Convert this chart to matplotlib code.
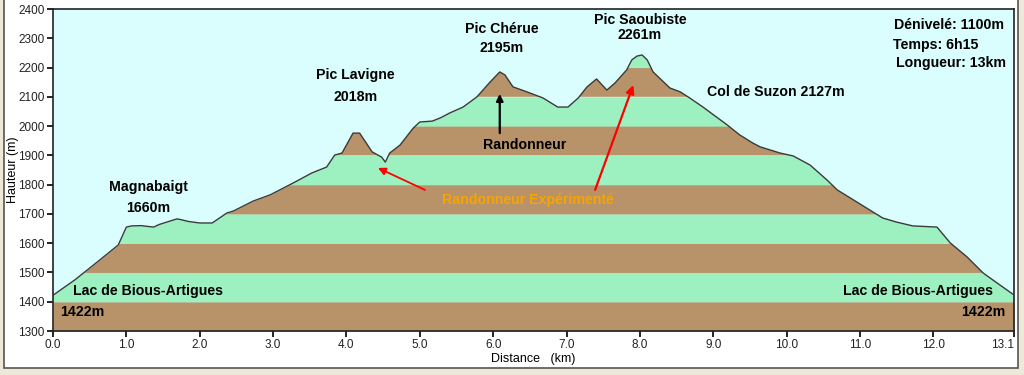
import numpy as np
import matplotlib
matplotlib.use("Agg")
import matplotlib.pyplot as plt
from matplotlib.patches import Rectangle

# ---- data ----
distance_km = [0.00, 0.30, 0.60, 0.89, 1.00, 1.07, 1.20, 1.37, 1.45, 1.55, 1.69, 1.75, 1.85,
               2.00, 2.17, 2.37, 2.46, 2.73, 2.96, 3.30, 3.53, 3.73, 3.84, 3.94, 4.09, 4.18,
               4.35, 4.48, 4.53, 4.59, 4.73, 4.91, 5.00, 5.17, 5.28, 5.41, 5.59, 5.78, 5.96,
               6.09, 6.16, 6.27, 6.46, 6.68, 6.88, 7.02, 7.16, 7.28, 7.41, 7.55, 7.66, 7.82,
               7.89, 7.96, 8.03, 8.10, 8.18, 8.41, 8.55, 8.68, 8.86, 9.19, 9.36, 9.54, 9.64,
               9.91, 10.09, 10.32, 10.55, 10.69, 10.91, 11.31, 11.50, 11.72, 12.05, 12.23,
               12.46, 12.68, 12.87, 13.10]
altitude_m = [1422, 1475, 1535, 1594, 1655, 1659, 1660, 1655, 1664, 1672, 1683, 1680, 1674,
              1669, 1669, 1703, 1710, 1744, 1765, 1809, 1840, 1860, 1901, 1908, 1976, 1976,
              1912, 1894, 1877, 1908, 1935, 1993, 2014, 2017, 2028, 2045, 2065, 2100, 2151,
              2185, 2175, 2134, 2117, 2096, 2065, 2065, 2096, 2134, 2161, 2123, 2147, 2192,
              2226, 2239, 2243, 2226, 2185, 2130, 2117, 2096, 2065, 2004, 1970, 1942, 1929,
              1908, 1898, 1867, 1816, 1782, 1748, 1686, 1672, 1659, 1655, 1601,
              1553, 1498, 1464, 1423]

x_ticks = [0.0, 1.0, 2.0, 3.0, 4.0, 5.0, 6.0, 7.0, 8.0, 9.0, 10.0, 11.0, 12.0, 13.1]
x_ticklabels = ["0.0", "1.0", "2.0", "3.0", "4.0", "5.0", "6.0", "7.0", "8.0", "9.0",
                "10.0", "11.0", "12.0", "13.1"]
y_ticks = [1300, 1400, 1500, 1600, 1700, 1800, 1900, 2000, 2100, 2200, 2300, 2400]
band_edges = [1300, 1400, 1500, 1600, 1700, 1800, 1900, 2000, 2100, 2200, 2300]

BROWN = "#b8936a"
GREEN = "#9df1c1"
SKY = "#dafdfd"
ORANGE = "#f7a400"

x = np.array(distance_km)
y = np.array(altitude_m)
# resample the polyline densely (same straight segments) so the band clipping follows it
xd = np.linspace(x.min(), x.max(), 4000)
yd = np.interp(xd, x, y)

fig = plt.figure(figsize=(10.24, 3.75), dpi=100)
fig.patch.set_facecolor("#ece9d8")
panel = Rectangle((4 / 1024, 1 - 368 / 375), (1018 - 4) / 1024, 368 / 375 + 0.01,
                  transform=fig.transFigure, facecolor="white",
                  edgecolor="#555555", linewidth=1.2, zorder=-10)
fig.patches.append(panel)

ax = fig.add_axes([53 / 1024, 1 - 331 / 375, (1014 - 53) / 1024, (331 - 9) / 375])
ax.set_zorder(5)
ax.set_facecolor(SKY)
ax.set_xlim(0, 13.1)
ax.set_ylim(1300, 2400)

for i, lo in enumerate(band_edges):
    hi = lo + 100
    col = BROWN if i % 2 == 0 else GREEN
    ax.fill_between(xd, lo, np.minimum(yd, hi), where=yd > lo, interpolate=True,
                    color=col, linewidth=0, zorder=1)
ax.plot(x, y, color="#3a3a3a", linewidth=1.0, zorder=3)

ax.set_xticks(x_ticks)
ax.set_xticklabels(x_ticklabels)
ax.set_yticks(y_ticks)
ax.tick_params(direction="out", length=4, width=1.2, labelsize=8.5, colors="black",
               labelcolor="#222222", pad=2)
for lab in ax.get_xticklabels() + ax.get_yticklabels():
    lab.set_family("Liberation Sans")
ax.get_xticklabels()[-1].set_ha("right")
for s in ax.spines.values():
    s.set_linewidth(1.2)
    s.set_color("#222222")
ax.set_xlabel("Distance   (km)", fontsize=9, family="Liberation Sans", labelpad=1)
ax.set_ylabel("Hauteur (m)", fontsize=9, family="Liberation Sans")
ax.yaxis.set_label_coords(-0.035, 0.5)

tk = dict(fontsize=10.2, fontweight="bold", family="Liberation Sans", color="black", zorder=5)
ax.text(1.30, 1792, "Magnabaigt", ha="center", va="center", **tk)
ax.text(1.30, 1720, "1660m", ha="center", va="center", **tk)
ax.text(0.27, 1437, "Lac de Bious-Artigues", ha="left", va="center", **tk)
ax.text(0.10, 1365, "1422m", ha="left", va="center", **tk)
ax.text(4.12, 2175, "Pic Lavigne", ha="center", va="center", **tk)
ax.text(4.12, 2099, "2018m", ha="center", va="center", **tk)
ax.text(6.12, 2332, "Pic Chérue", ha="center", va="center", **tk)
ax.text(6.12, 2267, "2195m", ha="center", va="center", **tk)
ax.text(8.00, 2362, "Pic Saoubiste", ha="center", va="center", **tk)
ax.text(8.00, 2311, "2261m", ha="center", va="center", **tk)
ax.text(8.91, 2116, "Col de Suzon 2127m", ha="left", va="center", **tk)
ax.text(6.43, 1935, "Randonneur", ha="center", va="center", **tk)
ax.text(12.96, 2345, "Dénivelé: 1100m", ha="right", va="center", **tk)
ax.text(11.45, 2277, "Temps: 6h15", ha="left", va="center", **tk)
ax.text(11.49, 2216, "Longueur: 13km", ha="left", va="center", **tk)
ax.text(12.81, 1437, "Lac de Bious-Artigues", ha="right", va="center", **tk)
ax.text(12.98, 1365, "1422m", ha="right", va="center", **tk)
tk_or = dict(tk)
tk_or["color"] = ORANGE
ax.text(6.47, 1748, "Randonneur Expérimenté", ha="center", va="center", **tk_or)

ax.annotate("", xy=(6.09, 2110), xytext=(6.09, 1976),
            arrowprops=dict(arrowstyle="-|>", color="black", lw=1.6,
                            mutation_scale=10, shrinkA=0, shrinkB=0), zorder=6)
ax.annotate("", xy=(4.43, 1857), xytext=(5.07, 1782),
            arrowprops=dict(arrowstyle="-|>", color="red", lw=1.3,
                            mutation_scale=11, shrinkA=0, shrinkB=0), zorder=6)
ax.annotate("", xy=(7.91, 2140), xytext=(7.39, 1782),
            arrowprops=dict(arrowstyle="-|>", color="red", lw=1.6,
                            mutation_scale=12, shrinkA=0, shrinkB=0), zorder=6)

fig.savefig("out.png", dpi=100, facecolor=fig.get_facecolor())
